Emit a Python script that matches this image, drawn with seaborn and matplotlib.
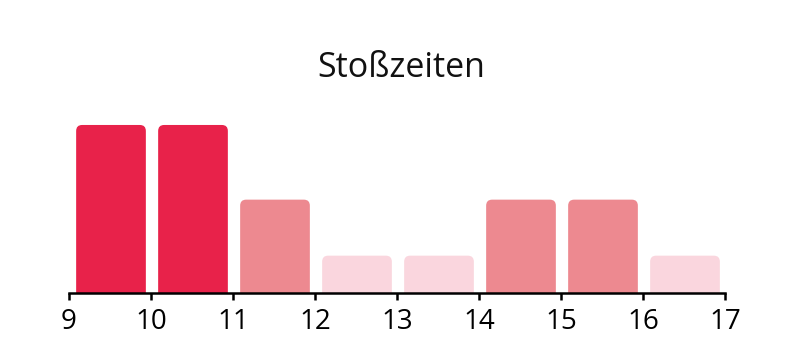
import numpy as np
import pandas as pd
import matplotlib
matplotlib.use("Agg")
import matplotlib.pyplot as plt
from matplotlib.patches import FancyBboxPatch
import seaborn as sns

# Data
hours = [9, 10, 11, 12, 13, 14, 15, 16]
visitors = [9, 9, 5, 2, 2, 5, 5, 2]
tick_labels = ["9", "10", "11", "12", "13", "14", "15", "16", "17"]
title = "Stoßzeiten"

level_colors = {9: "#E8224A", 5: "#ED8990", 2: "#FAD6DE"}

sns.set_theme(style="white")
plt.rcParams["font.family"] = ["Open Sans", "DejaVu Sans"]

df = pd.DataFrame({"hour": hours, "visitors": visitors})
df["center"] = df["hour"] + 0.5  # each bar spans one hour

fig = plt.figure(figsize=(8.03, 3.44), dpi=100)
ax = fig.add_axes([69 / 803, 1 - 293 / 344, (725 - 69) / 803, (293 - 106.3) / 344])

sns.barplot(data=df, x="center", y="visitors", native_scale=True, width=0.85,
            ax=ax, color=level_colors[9], edgecolor="none", errorbar=None)

ax.set_xlim(9, 17)
ax.set_ylim(0, 10)

# replace bars by rounded ones using the bars' own geometry
px_x = (17 - 9) / (725 - 69)
px_y = 10 / (293 - 106.3)
aspect = px_y / px_x
r = 6 * px_x
patches = sorted(list(ax.patches), key=lambda p: p.get_x())
for p, v in zip(patches, visitors):
    x0, w, h = p.get_x() + 1 * px_x, p.get_width(), p.get_height()
    p.remove()
    ext = 8 * px_y
    fb = FancyBboxPatch((x0, -ext), w, h + ext,
                        boxstyle=f"round,pad=0,rounding_size={r}",
                        mutation_aspect=aspect, facecolor=level_colors[v],
                        edgecolor="none", clip_on=True)
    ax.add_patch(fb)

ax.set_xticks(range(9, 18))
ax.set_xticklabels(tick_labels)
ax.set_yticks([])
ax.set_xlabel("")
ax.set_ylabel("")
for s in ["left", "right", "top"]:
    ax.spines[s].set_visible(False)
ax.spines["bottom"].set_linewidth(1.8)
ax.spines["bottom"].set_color("black")
ax.spines["bottom"].set_zorder(5)
ax.tick_params(axis="x", direction="out", length=5, width=1.8, color="black",
               labelsize=20, pad=6, labelcolor="black", bottom=True)

fig.text(0.5, 1 - 77 / 344, title, ha="center", va="baseline", fontsize=24.5,
         color="#111111")

fig.savefig("out.png", dpi=100, facecolor="white")
